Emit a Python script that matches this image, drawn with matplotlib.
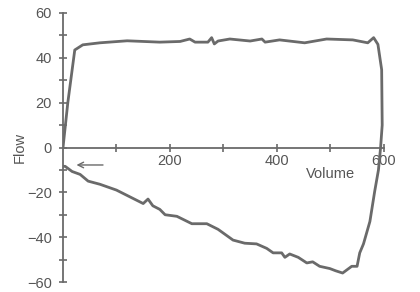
import matplotlib.pyplot as plt
import numpy as np

# flow-volume loop (volume, flow)
volume = [0, 9, 22, 37, 69, 120, 181, 219, 237, 247, 271, 278, 283, 290, 312,
          350, 372, 378, 405, 452, 493, 542, 570, 581, 589, 596, 597, 594,
          590, 583, 574, 562, 555, 550, 540, 523, 510, 499, 480, 467, 456,
          440, 424, 415, 409, 393, 381, 362, 340, 318, 290, 269, 241, 213,
          191, 181, 168, 159, 150, 125, 100, 69, 47, 32, 17, 4, 0]
flow = [0, 20, 43.5, 45.8, 46.7, 47.6, 47, 47.3, 48.4, 47, 47, 49, 46.2, 47.5, 48.4,
        47.5, 48.4, 47, 48, 46.7, 48.4, 48, 46.7, 49, 46, 34.7, 10, 0,
        -10, -19.5, -33, -43, -47, -53, -53, -56, -55, -54, -53, -51, -51.5,
        -49, -47.5, -49, -47, -47, -45, -43, -42.7, -41.3, -36.5, -34, -34, -30.7,
        -30, -27.6, -26, -23, -25, -22, -19, -16.4, -15, -12, -10.7, -8.4, -8.4]

xtick_vals = [100, 200, 300, 400, 500, 600]
xtick_labels = ['', '200', '', '400', '', '600']
ytick_vals = [-60, -40, -20, 0, 20, 40, 60]

grey = '#6a6a6a'
plt.rcParams['font.family'] = ['Liberation Sans', 'DejaVu Sans']

fig = plt.figure(figsize=(4.2, 2.92), dpi=100)
ax = fig.add_axes([63 / 420, 1 - 282 / 292, 347 / 420, 269 / 292])

ax.plot(volume, flow, color=grey, lw=2.0, solid_joinstyle='round')

# arrow marking the start of inspiration
ax.annotate('', xy=(20, -7.8), xytext=(80, -7.8),
            arrowprops=dict(arrowstyle='->', color=grey, lw=1.0))

ax.set_xlim(0, 649)
ax.set_ylim(-60, 60)

for s in ['top', 'right']:
    ax.spines[s].set_visible(False)
ax.spines['bottom'].set_position(('data', 0))
ax.spines['bottom'].set_bounds(0, 600)
ax.spines['left'].set_bounds(-60, 60)
for s in ['bottom', 'left']:
    ax.spines[s].set_color(grey)
    ax.spines[s].set_linewidth(1.3)

ax.set_xticks(xtick_vals)
ax.set_xticklabels(xtick_labels)
ax.set_yticks(ytick_vals)
ax.set_yticks(np.arange(-50, 60, 20), minor=True)
ax.tick_params(axis='both', which='both', direction='inout', length=6,
               width=1.2, color=grey, labelcolor='#555555', labelsize=10.5)
ax.tick_params(axis='x', pad=2)
ax.tick_params(axis='y', pad=5)

ax.text(500, -12, 'Volume', ha='center', va='center', fontsize=10.5,
        color='#555555')
ax.set_ylabel('Flow', fontsize=10.5, color='#555555')
ax.yaxis.set_label_coords(-0.105, 0.5)

fig.savefig('out.png', dpi=100)
